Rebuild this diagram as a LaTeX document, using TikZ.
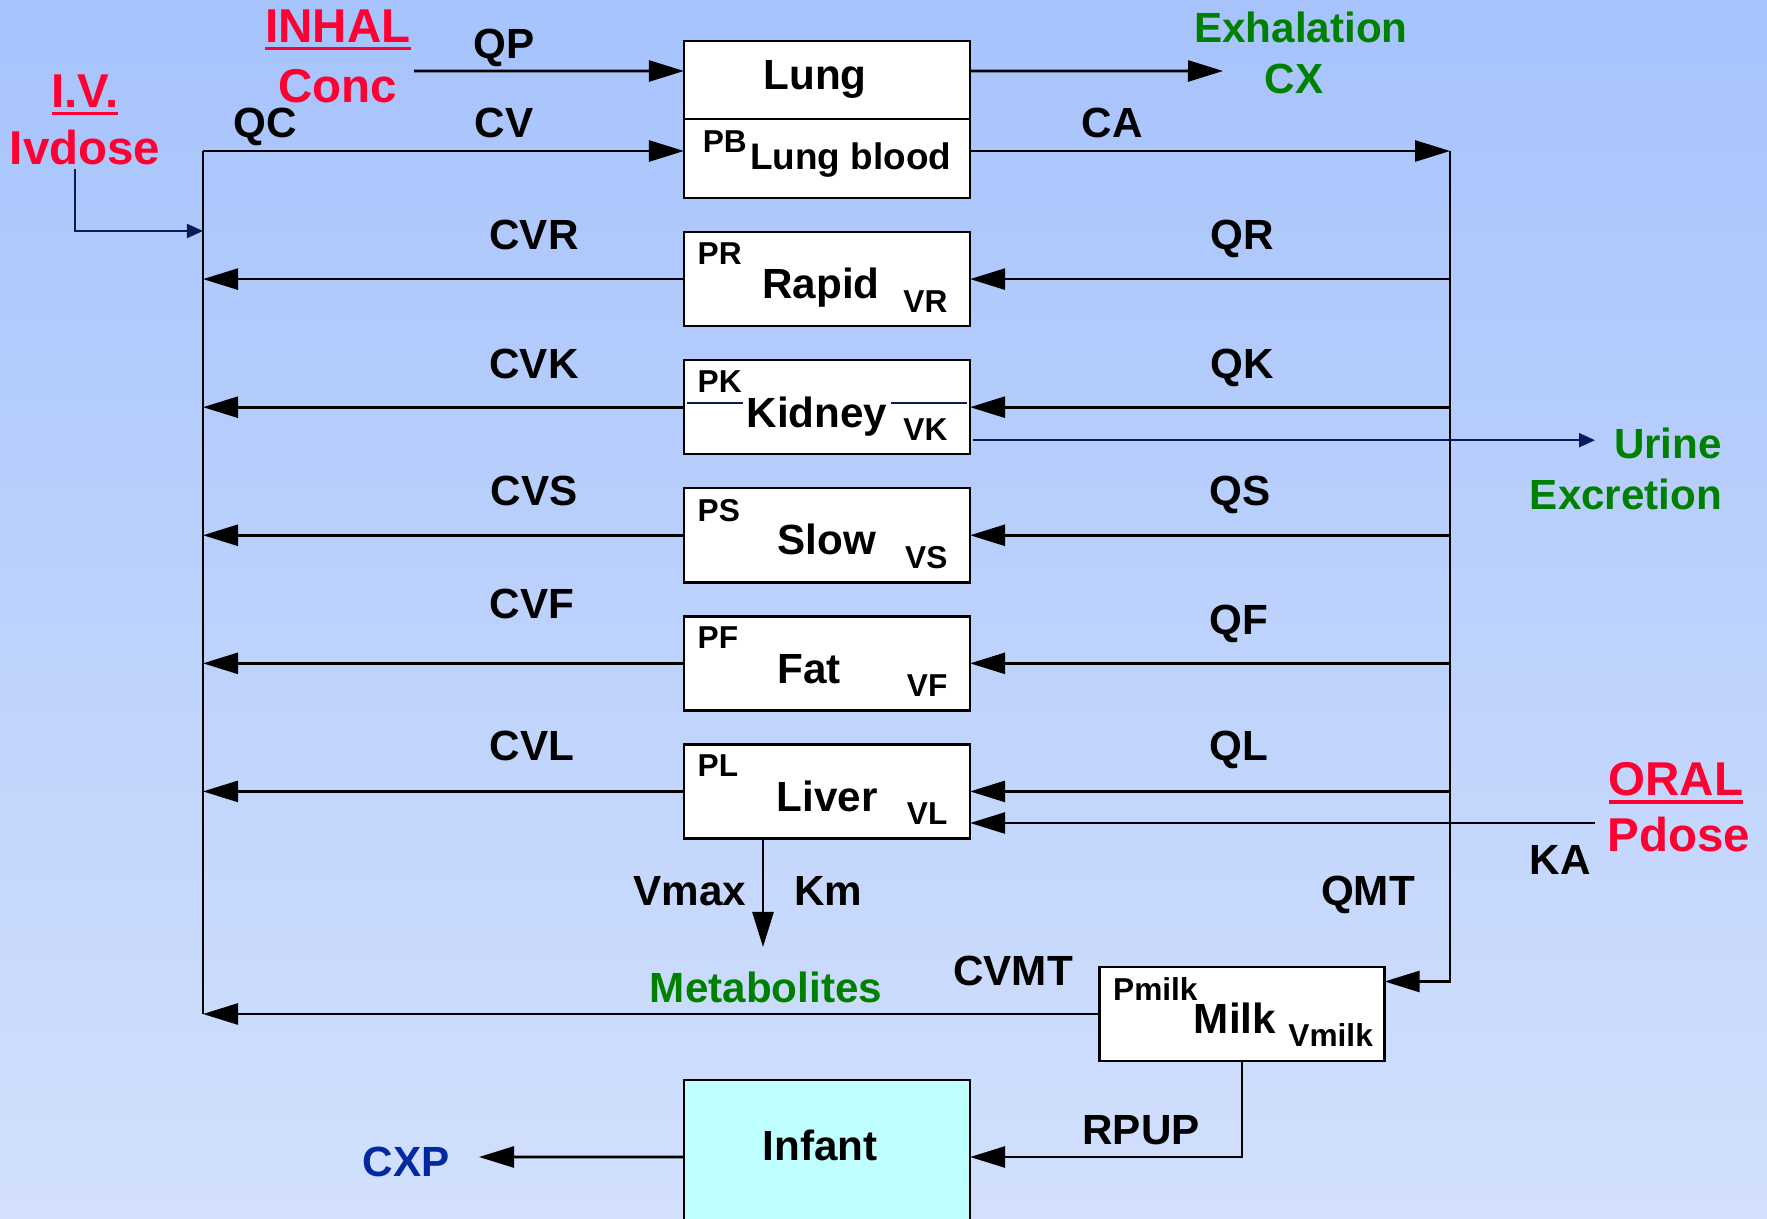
\documentclass[tikz,border=0pt]{standalone}
\usepackage{fontspec}
\setmainfont{Liberation Sans}
\usepackage{xcolor}
\usetikzlibrary{arrows.meta, positioning}

\definecolor{dosered}{RGB}{255,0,51}
\definecolor{outgreen}{RGB}{0,128,0}
\definecolor{cxpblue}{RGB}{0,40,160}
\definecolor{navyline}{RGB}{10,25,90}
\definecolor{infantfill}{RGB}{191,255,255}
\definecolor{bgtop}{RGB}{166,195,252}
\definecolor{bgbot}{RGB}{210,224,252}

\newcommand{\ulabel}[1]{\leavevmode\setbox0=\hbox{#1}\rlap{\rule[-2.4pt]{\wd0}{1pt}}\box0}

\begin{document}
\begin{tikzpicture}[
    x=0.01cm, y=-0.01cm,
    node distance = 3.4mm,
    organ/.style  = {rectangle, draw=black, line width=0.7pt, fill=white,
                     minimum width=2.86cm, minimum height=0.94cm, inner sep=0pt,
                     outer sep=0pt, text height=11.2pt, text depth=0pt,
                     font=\fontsize{12}{14}\selectfont\bfseries},
    title/.style  = {inner xsep=1pt, inner ysep=0pt, text height=8.6pt, text depth=0pt,
                     font=\fontsize{12}{14}\selectfont\bfseries},
    corner/.style = {inner sep=0pt, font=\fontsize{9}{10}\selectfont\bfseries},
    lbl/.style    = {inner sep=0pt, text height=8.6pt, text depth=0pt,
                     font=\fontsize{12}{14}\selectfont\bfseries},
    dose/.style   = {inner sep=0pt, text height=9.7pt, text depth=0pt,
                     font=\fontsize{13.5}{16}\selectfont\bfseries, text=dosered},
    outlbl/.style = {lbl, text=outgreen},
    arr/.style    = {-{Triangle[length=3.5mm, width=2.1mm]}, line width=0.75pt},
    line/.style   = {line width=0.75pt},
    navyarr/.style = {-{Triangle[length=1.6mm, width=1.4mm]}, line width=0.6pt,
                      draw=navyline}
  ]
  % background
  \useasboundingbox (0,0) rectangle (1767,1219);
  \shade[top color=bgtop, bottom color=bgbot] (0,0) rectangle (1767,1219);

  % compartments
  \node[organ, minimum height=0.78cm, text height=5.4pt] (lung) at (827,80)
       {\hspace*{-0.24cm}Lung};
  \node[organ, minimum height=0.79cm, text height=6.5pt, below=0mm of lung] (lungblood)
       {\raisebox{5.1pt}[0pt][0pt]{\fontsize{9}{10}\selectfont PB}\hspace{1pt}\fontsize{10.5}{12}\selectfont Lung blood};
  \node[organ, below=of lungblood] (rapid)  {\hspace*{-0.12cm}Rapid};
  \node[organ, below=of rapid]     (kidney) {};
  \node[organ, below=of kidney]    (slow)   {Slow};
  \node[organ, below=of slow]      (fat)    {\hspace*{-0.36cm}Fat};
  \node[organ, below=of fat]       (liver)  {Liver};
  \node[organ, minimum width=2.85cm] (milk) at (1242,1014) {\hspace*{-0.14cm}Milk};
  \node[organ, fill=infantfill, minimum height=1.4cm, text height=6.2pt] (infant)
       at (827,1150) {\hspace*{-0.14cm}Infant};

  % kidney line behind its title
  \draw[navyline, line width=0.6pt] ([xshift=0.03cm, yshift=0.04cm]kidney.west)
       -- ([xshift=-0.03cm, yshift=0.04cm]kidney.east);
  \node[title, fill=white] (kidneytxt) at ([xshift=-0.1cm, yshift=-0.05cm]kidney) {Kidney};

  % partition coefficients and volumes
  \node[corner, anchor=north west] (pr) at ([shift={(0.13cm,-0.10cm)}]rapid.north west) {PR};
  \node[corner, anchor=south east] (vr) at ([shift={(-0.22cm,0.13cm)}]rapid.south east) {VR};
  \node[corner, anchor=north west] (pk) at ([shift={(0.13cm,-0.10cm)}]kidney.north west) {PK};
  \node[corner, anchor=south east] (vk) at ([shift={(-0.22cm,0.13cm)}]kidney.south east) {VK};
  \node[corner, anchor=north west] (ps) at ([shift={(0.13cm,-0.10cm)}]slow.north west) {PS};
  \node[corner, anchor=south east] (vs) at ([shift={(-0.22cm,0.13cm)}]slow.south east) {VS};
  \node[corner, anchor=north west] (pf) at ([shift={(0.13cm,-0.10cm)}]fat.north west) {PF};
  \node[corner, anchor=south east] (vf) at ([shift={(-0.22cm,0.13cm)}]fat.south east) {VF};
  \node[corner, anchor=north west] (pl) at ([shift={(0.13cm,-0.10cm)}]liver.north west) {PL};
  \node[corner, anchor=south east] (vl) at ([shift={(-0.22cm,0.13cm)}]liver.south east) {VL};
  \node[corner, anchor=north west] (pmilk) at ([shift={(0.13cm,-0.10cm)}]milk.north west) {Pmilk};
  \node[corner, anchor=south east] (vmilk) at ([shift={(-0.11cm,0.14cm)}]milk.south east) {Vmilk};

  % doses and outputs
  \node[dose] (iv)     at (85,90)   {\ulabel{I.V.}};
  \node[dose] (ivdose) at (85,147)  {Ivdose};
  \node[dose] (inhal)  at (338,25)  {\ulabel{INHAL}};
  \node[dose] (conc)   at (338,85)  {Conc};
  \node[dose] (oral)   at (1676,778) {\ulabel{ORAL}};
  \node[dose] (pdose)  at (1679,834) {Pdose};
  \node[outlbl] (exhal)  at (1301,27)  {Exhalation};
  \node[outlbl] (cx)     at (1294,78)  {CX};
  \node[outlbl] (urine)  at (1668,443) {Urine};
  \node[outlbl] (excr)   at (1626,494) {Excretion};
  \node[outlbl] (metabs) at (766,987)  {Metabolites};
  \node[lbl, text=cxpblue] (cxp) at (406,1161) {CXP};

  % flow labels
  \node[lbl] (qp)   at (504,43)   {QP};
  \node[lbl] (qc)   at (265,122)  {QC};
  \node[lbl] (cv)   at (504,122)  {CV};
  \node[lbl] (ca)   at (1112,122) {CA};
  \node[lbl] (cvr)  at (534,234)  {CVR};
  \node[lbl] (qr)   at (1242,234) {QR};
  \node[lbl] (cvk)  at (534,363)  {CVK};
  \node[lbl] (qk)   at (1242,363) {QK};
  \node[lbl] (cvs)  at (534,490)  {CVS};
  \node[lbl] (qs)   at (1240,490) {QS};
  \node[lbl] (cvf)  at (532,603)  {CVF};
  \node[lbl] (qf)   at (1239,619) {QF};
  \node[lbl] (cvl)  at (532,745)  {CVL};
  \node[lbl] (ql)   at (1239,745) {QL};
  \node[lbl] (ka)   at (1560,859) {KA};
  \node[lbl] (vmax) at (690,890)  {Vmax};
  \node[lbl] (km)   at (828,890)  {Km};
  \node[lbl] (qmt)  at (1368,890) {QMT};
  \node[lbl] (cvmt) at (1013,970) {CVMT};
  \node[lbl] (rpup) at (1141,1129) {RPUP};

  % free ends
  \coordinate (lbus)   at (203,151);
  \coordinate (rbus)   at (1450,151);
  \coordinate (qpin)   at (414,71);
  \coordinate (exhtip) at (1223,71);
  \coordinate (ivin)   at (203,231);
  \coordinate (urtip)  at (1595,440);
  \coordinate (oralin) at (1595,823);
  \coordinate (mettip) at (763,947);
  \coordinate (cxptip) at (479,1157);

  % lung
  \draw[arr] (qpin) -- ([yshift=0.09cm]lung.west);
  \draw[arr] ([yshift=0.09cm]lung.east) -- (exhtip);
  \draw[arr] (lbus) -- (lbus -| lungblood.west);
  \draw[arr] (lungblood.east |- rbus) -- (rbus);
  \draw[navyarr] ([xshift=-0.10cm, yshift=-0.04cm]ivdose.south) |- (ivin);

  % venous and arterial buses
  \draw[line] (lbus) -- (lbus |- milk.west);
  \draw[arr] (rbus) |- ([yshift=0.325cm]milk.east);

  % tissues
  \draw[arr] (rapid.west) -- (rapid.west -| lbus);
  \draw[arr] (rapid.east -| rbus) -- (rapid.east);
  \draw[arr] (kidney.west) -- (kidney.west -| lbus);
  \draw[arr] (kidney.east -| rbus) -- (kidney.east);
  \draw[navyarr] ([xshift=0.03cm, yshift=-0.33cm]kidney.east) -- ([yshift=-0.33cm]kidney.east -| urtip);
  \draw[arr] (slow.west) -- (slow.west -| lbus);
  \draw[arr] (slow.east -| rbus) -- (slow.east);
  \draw[arr] (fat.west) -- (fat.west -| lbus);
  \draw[arr] (fat.east -| rbus) -- (fat.east);
  \draw[arr] (liver.west) -- (liver.west -| lbus);
  \draw[arr] (liver.east -| rbus) -- (liver.east);
  \draw[arr] (oralin) -- (oralin -| liver.east);
  \draw[arr] (mettip |- liver.south) -- (mettip);

  % milk and infant
  \draw[arr] (milk.west) -- (milk.west -| lbus);
  \draw[arr] (milk.south) |- ([yshift=-0.07cm]infant.east);
  \draw[arr] ([yshift=-0.07cm]infant.west) -- (cxptip);
\end{tikzpicture}
\end{document}
